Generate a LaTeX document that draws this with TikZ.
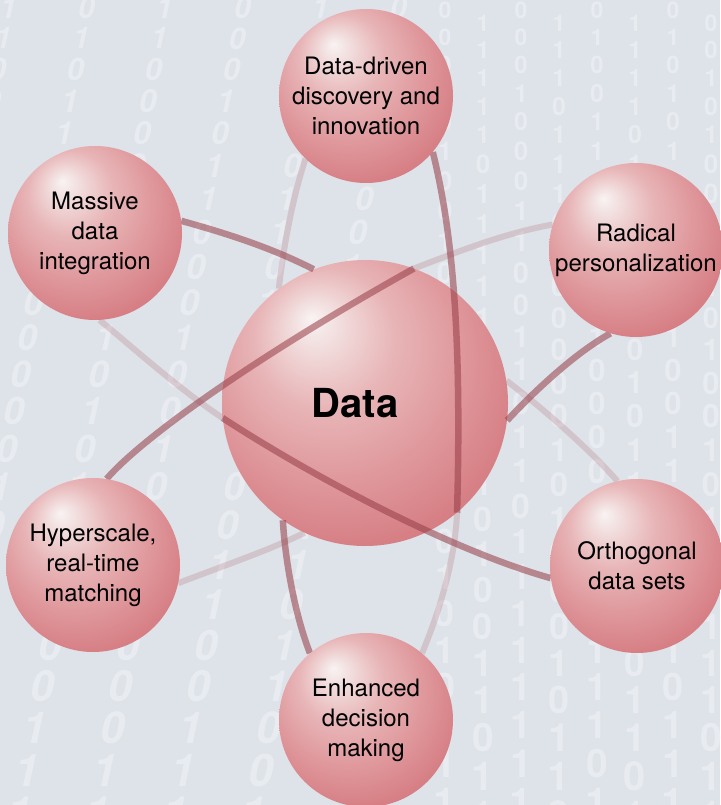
\documentclass[tikz,border=0pt]{standalone}
\usepackage{fontspec}
\setmainfont{TeX Gyre Heros}

\definecolor{bgcol}{RGB}{222,226,233}
\definecolor{bitcol}{RGB}{232,235,240}
\definecolor{orbitcol}{RGB}{150,60,70}
% sphere colours, from highlight to rim
\definecolor{orbA}{RGB}{249,243,243}
\definecolor{orbB}{RGB}{242,222,222}
\definecolor{orbC}{RGB}{232,182,184}
\definecolor{orbD}{RGB}{223,152,156}
\definecolor{orbE}{RGB}{213,124,130}
\definecolor{orbF}{RGB}{206,112,118}
\definecolor{orbG}{RGB}{236,192,192}

\pgfdeclareradialshading{orb}{\pgfpoint{-9.5bp}{15bp}}{%
  color(0bp)=(orbA); color(4bp)=(orbB); color(12bp)=(orbC); color(22bp)=(orbD);
  color(32bp)=(orbE); color(39bp)=(orbF); color(42bp)=(orbG); color(50bp)=(orbG)}

\begin{document}
\begin{tikzpicture}[x=1pt, y=-1pt,
        bit/.style={text=bitcol, inner sep=0pt},
        satball/.style={circle, shading=orb, minimum size=174pt, inner sep=0pt,
            align=center, font=\fontsize{24}{30}\selectfont},
        databall/.style={circle, shading=orb, minimum size=286pt, inner sep=0pt},
        datatext/.style={font=\fontsize{40}{44}\selectfont\bfseries},
        orbitfront/.style={draw=orbitcol, draw opacity=0.55, line width=6.5pt},
        orbitback/.style={draw=orbitcol, draw opacity=0.18, line width=6pt}
    ]
    \useasboundingbox (0,0) rectangle (720,805);
    \fill[bgcol] (0,0) rectangle (720,805);

    \begin{scope}
        \clip (0,0) rectangle (720,805);
        \pgfmathsetseed{17}
        % binary background, slanted columns on the left
        \foreach \k in {0,...,5}{
            \foreach \j in {0,...,22}{
                \pgfmathsetmacro{\yy}{8+30*\j+0.3*\j*\j}
                \pgfmathsetmacro{\xx}{10+78*\k-0.18*\yy}
                \pgfmathtruncatemacro{\fs}{30+0.02*\yy}
                \pgfmathrandominteger{\bit}{0}{1}
                \node[bit, font=\fontsize{\fs}{\fs}\selectfont\bfseries\itshape] (l\k-\j) at (\xx,\yy) {\bit};
            }
        }
        % upright columns on the right
        \foreach \k in {0,...,7}{
            \foreach \j in {0,...,24}{
                \pgfmathsetmacro{\yy}{10+27*\j+0.25*\j*\j+13*mod(\k,2)}
                \pgfmathsetmacro{\xx}{445+38*\k}
                \pgfmathtruncatemacro{\fs}{23+0.022*\yy}
                \pgfmathrandominteger{\bit}{0}{1}
                \node[bit, font=\fontsize{\fs}{\fs}\selectfont\bfseries] (r\k-\j) at (\xx,\yy) {\bit};
            }
        }
    \end{scope}

    % centre sphere and satellites (named first, drawn later)
    \path (365,403) node[databall, opacity=0] (data) {}
          (366,96)  node[satball, opacity=0] (discovery) {}
          (95,233)  node[satball, opacity=0] (massive) {}
          (636,250) node[satball, opacity=0] (radical) {}
          (93,565)  node[satball, opacity=0] (hyperscale) {}
          (366,720) node[satball, opacity=0] (enhanced) {}
          (637,566) node[satball, opacity=0] (orthogonal) {};

    % orbits, the parts behind the centre
    \draw[orbitback] (data.9) .. controls (545,410) and (590,450) .. (orthogonal.103);
    \draw[orbitback] (data.70) .. controls (450,255) and (500,234) .. (radical.163);
    \draw[orbitback] (massive.-87) .. controls (130,345) and (180,390) .. (data.186);
    \draw[orbitback] (data.-50) .. controls (455,560) and (440,610) .. (enhanced.50);
    \draw[orbitback] (discovery.-134) .. controls (292,200) and (283,250) .. (data.127);
    \draw[orbitback] (data.-115) .. controls (270,550) and (220,567) .. (hyperscale.-12);

    \node[databall] (datab) at (data) {};
    \node[datatext] (datalabel) at ([xshift=-10pt]data.center) {Data};

    % orbits, the parts in front
    \draw[orbitfront] (massive.8) .. controls (225,233) and (270,247) .. (data.111);
    \draw[orbitfront] (hyperscale.81) .. controls (140,440) and (250,360) .. (data.70);
    \draw[orbitfront] (data.186) .. controls (310,475) and (450,550) .. (orthogonal.188);
    \draw[orbitfront] (discovery.-40) .. controls (452,230) and (462,330) .. (data.-50);
    \draw[orbitfront] (data.-125) .. controls (285,560) and (295,615) .. (enhanced.130);
    \draw[orbitfront] (radical.-107) .. controls (580,350) and (540,385) .. (data.-7);

    % satellite spheres
    \node[satball] (discoveryb) at (discovery) {Data-driven\\discovery and\\innovation};
    \node[satball] (massiveb) at (massive) {Massive\\data\\integration};
    \node[satball] (radicalb) at (radical) {Radical\\personalization};
    \node[satball] (hyperscaleb) at (hyperscale) {Hyperscale,\\real-time\\matching};
    \node[satball] (enhancedb) at (enhanced) {Enhanced\\decision\\making};
    \node[satball] (orthogonalb) at (orthogonal) {Orthogonal\\data sets};
\end{tikzpicture}
\end{document}
